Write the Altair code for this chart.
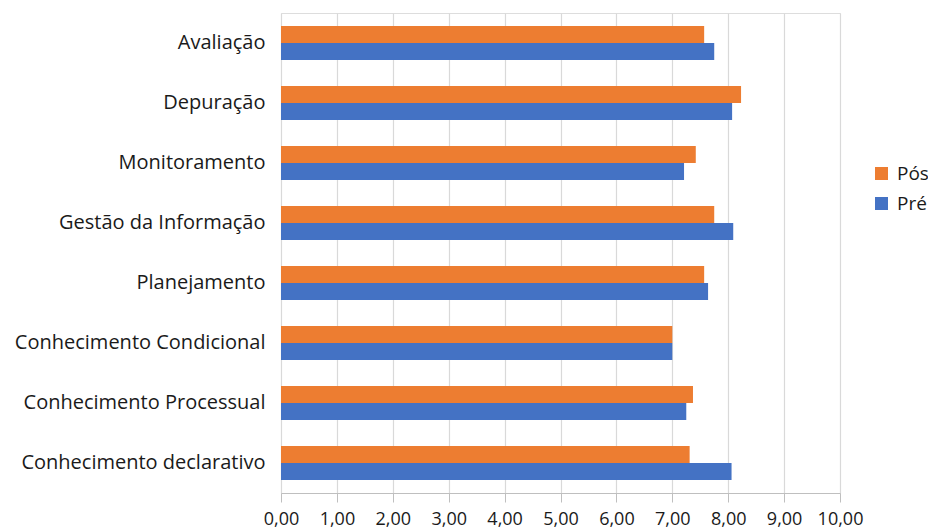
import altair as alt
import pandas as pd

categories = ["Avaliação", "Depuração", "Monitoramento", "Gestão da Informação",
              "Planejamento", "Conhecimento Condicional", "Conhecimento Processual",
              "Conhecimento declarativo"]
pos_values = [7.57, 8.23, 7.42, 7.75, 7.57, 7.00, 7.37, 7.31]
pre_values = [7.75, 8.07, 7.21, 8.09, 7.64, 7.00, 7.25, 8.06]
series = ["Pós", "Pré"]
colors = ["#ED7D31", "#4472C4"]

rows = []
for c, a, b in zip(categories, pos_values, pre_values):
    rows.append({"cat": c, "serie": "Pós", "v": a})
    rows.append({"cat": c, "serie": "Pré", "v": b})
df = pd.DataFrame(rows)

FONT = "Open Sans"

chart = alt.Chart(df).mark_bar(size=17).encode(
    y=alt.Y("cat:N", sort=categories, title=None,
            scale=alt.Scale(paddingInner=0.43, paddingOuter=0.215),
            axis=alt.Axis(labelFontSize=20, labelColor="#1a1a1a", labelFont=FONT,
                          ticks=False, domain=False, labelPadding=16, labelLimit=300)),
    yOffset=alt.YOffset("serie:N", sort=series),
    x=alt.X("v:Q", title=None,
            scale=alt.Scale(domain=[0, 10], nice=False),
            axis=alt.Axis(values=list(range(0, 11)), labelExpr="replace(format(datum.value, '.2f'), '.', ',')",
                          labelFontSize=18, labelColor="#1a1a1a", labelFont=FONT,
                          grid=True, gridColor="#d9d9d9", gridWidth=1.2,
                          domainColor="#bfbfbf", tickColor="#bfbfbf", tickSize=9,
                          labelPadding=8, labelFlush=False)),
    color=alt.Color("serie:N", sort=series,
                    scale=alt.Scale(domain=series, range=colors),
                    legend=alt.Legend(title=None, orient="none", legendX=591, legendY=151,
                                      labelFontSize=19, labelFont=FONT, labelColor="#1a1a1a",
                                      symbolType="square", symbolSize=170, symbolStrokeWidth=0,
                                      rowPadding=10, labelOffset=6)),
).properties(
    width=559, height=480,
    autosize=alt.AutoSizeParams(type="none"),
    padding={"left": 281, "top": 13, "right": 88, "bottom": 38},
).configure_view(stroke=None).configure(background="white")

chart.save("out.html", embed_options={"renderer": "svg", "actions": False})
